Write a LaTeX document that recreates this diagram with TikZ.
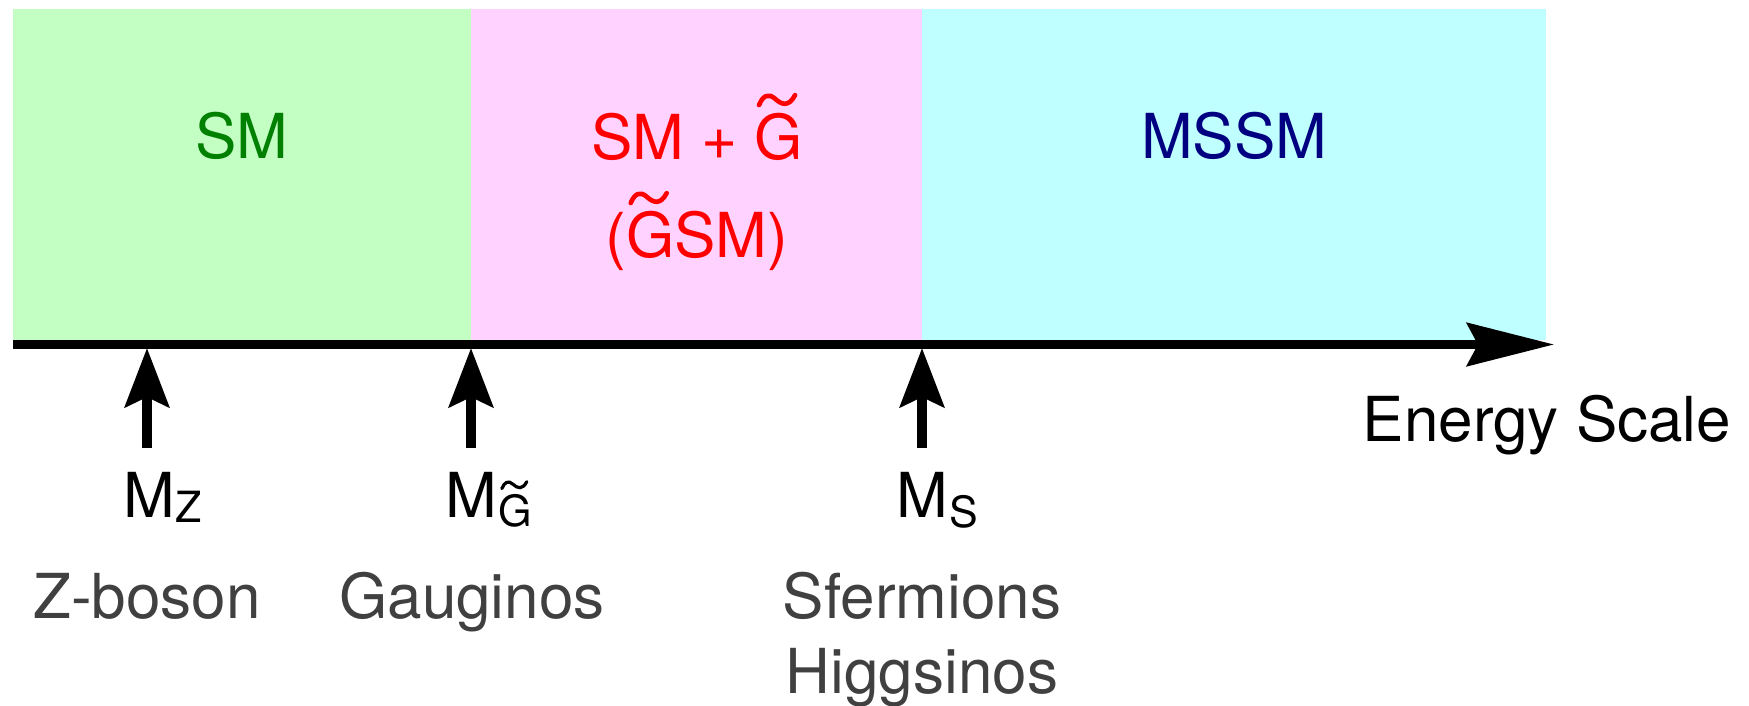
\RequirePackage{fix-cm}
\documentclass[tikz,border=0pt]{standalone}
\usepackage{graphicx}
\usepackage{fontspec}
\setmainfont{TeX Gyre Heros}
\usetikzlibrary{arrows.meta}
\definecolor{bggreen}{RGB}{195,255,195}
\definecolor{bgpink}{RGB}{255,210,255}
\definecolor{bgcyan}{RGB}{192,255,255}
\definecolor{txgreen}{RGB}{0,128,0}
\definecolor{txred}{RGB}{255,0,0}
\definecolor{txnavy}{RGB}{0,0,128}
\definecolor{txgray}{RGB}{64,64,64}
\newcommand{\tildemark}{\tikz[overlay,baseline=0pt,x=1em,y=1em]{\draw[draw=.,line width=0.075em,line cap=round]
  (0.07,0.87) .. controls (0.13,1.02) and (0.22,1.07) .. (0.33,0.97)
  .. controls (0.44,0.87) and (0.55,0.84) .. (0.65,1.03);}}
\newcommand{\Gt}{\leavevmode\tildemark G}
\newcommand{\subl}[3][2pt]{\rlap{\hspace{#1}\raisebox{-#2}{\fontsize{43}{43}\selectfont #3}}}
\begin{document}
\begin{tikzpicture}[x=1pt,y=-1pt,
  big/.style={font=\fontsize{62}{75}\selectfont, inner sep=0pt, anchor=base, align=center},
  axisline/.style={line width=9pt, -{Stealth[length=87pt,width=43pt,inset=11pt]}},
  uparrow/.style={line width=10pt, -{Stealth[length=59pt,width=44pt,inset=10pt]}}]
\useasboundingbox (0,0) rectangle (1749,706);
% regions
\fill[bggreen] (13,9) rectangle (471,340);
\fill[bgpink] (471,9) rectangle (922,340);
\fill[bgcyan] (922,9) rectangle (1546,340);
\node[big, text=txgreen] (sm) at (242,159) {SM};
\node[big, text=txred, font=\fontsize{62}{98}\selectfont] (gsm) at (697,257) {SM + \Gt\\(\Gt SM)};
\node[big, text=txnavy] (mssm) at (1234,159) {MSSM};
% axis
\coordinate (axL) at (13,344.5);
\coordinate (axR) at (1554,344.5);
\draw[axisline] (axL) -- (axR);
\node[big] (energy) at (1547,441) {Energy Scale};
% markers
\coordinate (pZ) at (147,348);  \coordinate (tZ) at (147,448);
\coordinate (pG) at (471,348);  \coordinate (tG) at (471,448);
\coordinate (pS) at (922,348);  \coordinate (tS) at (922,448);
\draw[uparrow] (tZ) -- (pZ);
\draw[uparrow] (tG) -- (pG);
\draw[uparrow] (tS) -- (pS);
\node[big] (mz) at (149,517) {M\subl[1pt]{5pt}{Z}};
\node[big] (mg) at (471,517) {M\subl[2pt]{9pt}{\Gt}};
\node[big] (ms) at (922,517) {M\subl[2pt]{10pt}{S}};
\node[big, text=txgray] (zb) at (147,618) {Z-boson};
\node[big, text=txgray] (ga) at (472,618) {Gauginos};
\node[big, text=txgray] (sf) at (922,693) {Sfermions\\Higgsinos};
\end{tikzpicture}
\end{document}
